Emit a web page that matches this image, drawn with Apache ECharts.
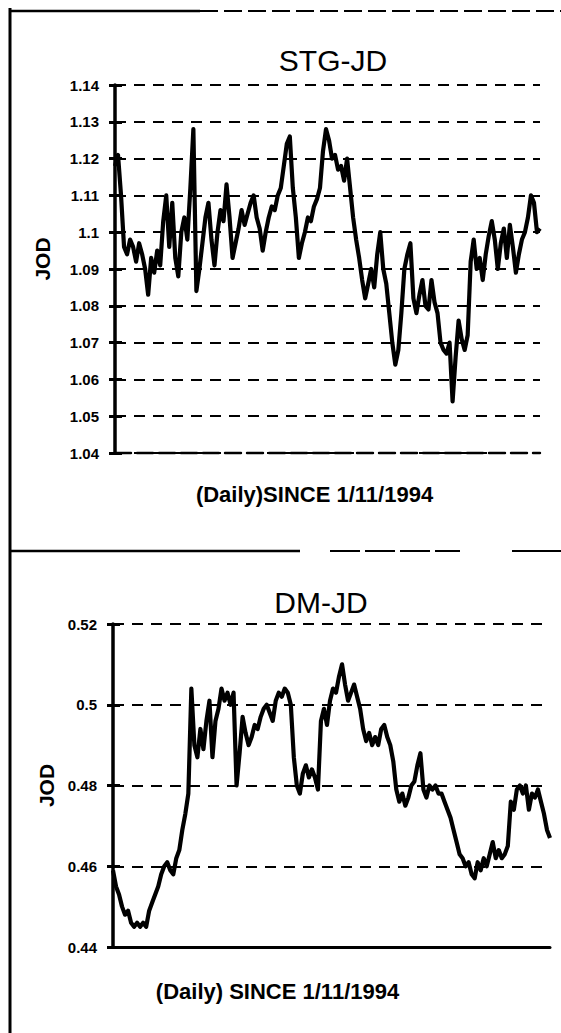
<!DOCTYPE html>
<html>
<head>
<meta charset="utf-8">
<script src="https://cdn.jsdelivr.net/npm/echarts@6/dist/echarts.min.js"></script>
<style>
html,body{margin:0;padding:0;background:#fff;}
#chart{width:561px;height:1033px;}
</style>
</head>
<body>
<div id="chart"></div>
<script>
// ---- data ----
const stgTitle = 'STG-JD';
const dmTitle = 'DM-JD';
const xName1 = '(Daily)SINCE 1/11/1994';
const xName2 = '(Daily) SINCE 1/11/1994';
const yName = 'JOD';

const stgTicks = [1.04, 1.05, 1.06, 1.07, 1.08, 1.09, 1.10, 1.11, 1.12, 1.13, 1.14];
const dmTicks = [0.44, 0.46, 0.48, 0.50, 0.52];

const stgValues = [
  1.118, 1.121, 1.110, 1.096, 1.094, 1.098, 1.096, 1.092, 1.097, 1.094,
  1.090, 1.083, 1.093, 1.089, 1.095, 1.091, 1.103, 1.110, 1.096, 1.108,
  1.093, 1.088, 1.100, 1.104, 1.098, 1.112, 1.128, 1.084, 1.090, 1.097,
  1.104, 1.108, 1.098, 1.091, 1.100, 1.106, 1.103, 1.113, 1.104, 1.093,
  1.097, 1.101, 1.106, 1.102, 1.105, 1.108, 1.110, 1.104, 1.101, 1.095,
  1.100, 1.104, 1.107, 1.106, 1.110, 1.112, 1.118, 1.124, 1.126, 1.112,
  1.104, 1.093, 1.097, 1.100, 1.104, 1.103, 1.107, 1.109, 1.112, 1.122,
  1.128, 1.125, 1.120, 1.121, 1.117, 1.118, 1.114, 1.120, 1.112, 1.104,
  1.098, 1.093, 1.087, 1.082, 1.086, 1.090, 1.085, 1.094, 1.100, 1.090,
  1.086, 1.078, 1.070, 1.064, 1.068, 1.078, 1.090, 1.094, 1.097, 1.082,
  1.078, 1.083, 1.087, 1.080, 1.079, 1.087, 1.081, 1.078, 1.070, 1.068,
  1.067, 1.070, 1.054, 1.066, 1.076, 1.071, 1.068, 1.072, 1.092, 1.098,
  1.090, 1.093, 1.087, 1.094, 1.099, 1.103, 1.098, 1.090, 1.097, 1.101,
  1.093, 1.102, 1.096, 1.089, 1.094, 1.098, 1.100, 1.104, 1.110, 1.108,
  1.100, 1.101
];

const dmValues = [
  0.459, 0.455, 0.453, 0.450, 0.448, 0.449, 0.446, 0.445, 0.446, 0.445,
  0.446, 0.445, 0.449, 0.451, 0.453, 0.455, 0.458, 0.460, 0.461, 0.459,
  0.458, 0.462, 0.464, 0.469, 0.473, 0.478, 0.504, 0.490, 0.487, 0.494,
  0.489, 0.496, 0.501, 0.487, 0.496, 0.499, 0.504, 0.501, 0.503, 0.500,
  0.503, 0.480, 0.488, 0.497, 0.493, 0.490, 0.492, 0.495, 0.494, 0.497,
  0.499, 0.500, 0.498, 0.496, 0.501, 0.503, 0.502, 0.504, 0.503, 0.500,
  0.487, 0.480, 0.478, 0.483, 0.485, 0.482, 0.484, 0.482, 0.479, 0.496,
  0.499, 0.495, 0.501, 0.504, 0.503, 0.507, 0.510, 0.505, 0.501, 0.503,
  0.505, 0.502, 0.499, 0.494, 0.491, 0.493, 0.490, 0.492, 0.490, 0.494,
  0.495, 0.492, 0.490, 0.486, 0.479, 0.476, 0.478, 0.475, 0.477, 0.480,
  0.481, 0.485, 0.488, 0.479, 0.477, 0.480, 0.479, 0.480, 0.478, 0.478,
  0.476, 0.474, 0.472, 0.469, 0.466, 0.463, 0.462, 0.460, 0.461, 0.458,
  0.457, 0.461, 0.459, 0.462, 0.460, 0.463, 0.466, 0.462, 0.464, 0.462,
  0.463, 0.465, 0.476, 0.474, 0.479, 0.480, 0.478, 0.480, 0.474, 0.478,
  0.477, 0.479, 0.476, 0.473, 0.469, 0.467
];

const stgDays = stgValues.map((_, i) => i + 1);
const dmDays = dmValues.map((_, i) => i + 1);

// ---- chart ----
const FONT = '"Liberation Sans", Arial, sans-serif';
const chart = echarts.init(document.getElementById('chart'), null, {renderer: 'svg'});

function fmt(v) { return String(+(+v).toFixed(2)); }

function yAxes(gridIndex, ticks, interval, nameGap, namePad) {
  const min = ticks[0], max = ticks[ticks.length - 1];
  return [
    {
      type: 'value', gridIndex, min, max, interval, position: 'left',
      name: yName, nameLocation: 'middle', nameRotate: 90, nameGap,
      nameTextStyle: {fontFamily: FONT, fontSize: 21, fontWeight: 'bold', color: '#000', padding: namePad},
      axisLine: {show: true, lineStyle: {color: '#000', width: 3.5}},
      axisTick: {show: true, inside: false, length: 6, lineStyle: {color: '#000', width: 3}},
      axisLabel: {show: true, margin: 16, formatter: fmt, fontFamily: FONT, fontSize: 15, fontWeight: 'bold', color: '#000'},
      splitLine: {show: true, lineStyle: {color: '#000', width: 1.8, type: [11, 8]}}
    },
    {
      type: 'value', gridIndex, min, max, interval, position: 'left',
      axisLine: {show: false},
      axisTick: {show: true, inside: true, length: 7, lineStyle: {color: '#000', width: 3}},
      axisLabel: {show: false},
      splitLine: {show: false}
    }
  ];
}

const option = {
  animation: false,
  backgroundColor: '#fff',
  title: [
    {text: stgTitle, left: 328, top: 55, textAlign: 'center', textVerticalAlign: 'middle',
     textStyle: {fontFamily: FONT, fontSize: 30, fontWeight: 'normal', color: '#000'}},
    {text: dmTitle, left: 316, top: 597, textAlign: 'center', textVerticalAlign: 'middle',
     textStyle: {fontFamily: FONT, fontSize: 30, fontWeight: 'normal', color: '#000'}}
  ],
  grid: [
    {left: 115, right: 21, top: 85, height: 368, containLabel: false},
    {left: 113, right: 11, top: 624, height: 323, containLabel: false}
  ],
  xAxis: [
    {
      type: 'category', gridIndex: 0, data: stgDays, boundaryGap: false,
      name: xName1, nameLocation: 'middle', nameGap: 30,
      nameTextStyle: {fontFamily: FONT, fontSize: 22, fontWeight: 'bold', color: '#000', padding: [0, 26, 0, 0]},
      axisLine: {show: true, onZero: false, lineStyle: {color: '#000', width: 2.4, type: [16, 6]}},
      axisTick: {show: false}, axisLabel: {show: false}, splitLine: {show: false}
    },
    {
      type: 'category', gridIndex: 1, data: dmDays, boundaryGap: false,
      name: xName2, nameLocation: 'middle', nameGap: 33,
      nameTextStyle: {fontFamily: FONT, fontSize: 22, fontWeight: 'bold', color: '#000', padding: [0, 108, 0, 0]},
      axisLine: {show: true, onZero: false, lineStyle: {color: '#000', width: 3}},
      axisTick: {show: false}, axisLabel: {show: false}, splitLine: {show: false}
    }
  ],
  yAxis: [
    ...yAxes(0, stgTicks, 0.01, 62, [0, 0, 0, 20]),
    ...yAxes(1, dmTicks, 0.02, 56, [0, 0, 0, 0])
  ],
  series: [
    {type: 'line', xAxisIndex: 0, yAxisIndex: 0, data: stgValues, showSymbol: false,
     lineStyle: {color: '#000', width: 4.2, join: 'round'}, z: 5},
    {type: 'line', xAxisIndex: 1, yAxisIndex: 2, data: dmValues, showSymbol: false,
     lineStyle: {color: '#000', width: 4.2, join: 'round'}, z: 5}
  ],
  graphic: [
    {type: 'line', shape: {x1: 10, y1: 8, x2: 10, y2: 1033}, style: {stroke: '#000', lineWidth: 3}},
    {type: 'line', shape: {x1: 10, y1: 11, x2: 200, y2: 11}, style: {stroke: '#000', lineWidth: 2.5}},
    {type: 'line', shape: {x1: 200, y1: 11, x2: 561, y2: 11}, style: {stroke: '#000', lineWidth: 2, lineDash: [18, 6]}},
    {type: 'line', shape: {x1: 10, y1: 551, x2: 300, y2: 551}, style: {stroke: '#000', lineWidth: 2.5}},
    {type: 'line', shape: {x1: 330, y1: 551, x2: 460, y2: 551}, style: {stroke: '#000', lineWidth: 2, lineDash: [30, 5]}},
    {type: 'line', shape: {x1: 512, y1: 551, x2: 561, y2: 551}, style: {stroke: '#000', lineWidth: 2}}
  ]
};
chart.setOption(option);
</script>
</body>
</html>
